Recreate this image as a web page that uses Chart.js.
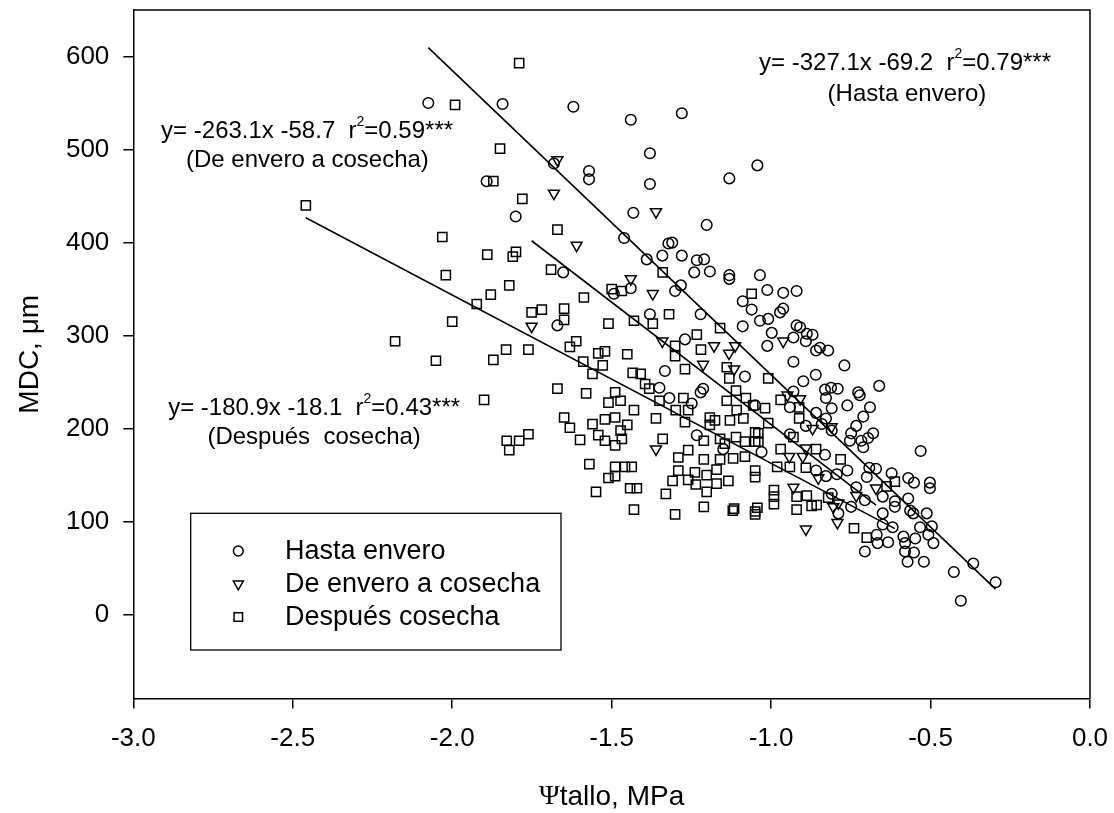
<!DOCTYPE html>
<html><head><meta charset="utf-8">
<script src="https://cdn.jsdelivr.net/npm/chart.js@4.4.1/dist/chart.umd.min.js"></script>
<style>html,body{margin:0;padding:0;background:#fff}#wrap{width:1114px;height:813px}</style>
</head><body><div id="wrap"><canvas id="c" width="1114" height="813"></canvas></div>
<script>
// ---- data ----
const seriesLabels = ['Hasta envero', 'De envero a cosecha', 'Después cosecha'];

const hastaX = [-2.075,-1.842,-1.620,-1.440,-1.280,-1.380,-1.380,-1.571,-1.571,-1.681,-1.892,-1.131,-1.043,-1.801,-1.432,-1.202,-1.461,-1.322,-1.310,-1.390,-1.341,-1.280,-1.233,-1.210,-1.241,-1.192,-1.131,-1.131,-1.035,-1.652,-1.283,-1.301,-1.440,-1.493,-1.380,-1.221,-1.089,-1.061,-1.089,-1.035,-1.670,-1.270,-1.333,-1.082,-1.213,-1.221,-1.249,-1.319,-1.350,-1.233,-1.150,-1.012,-0.962,-0.920,-0.962,-0.972,-1.009,-0.920,-0.909,-0.998,-0.888,-0.870,-0.930,-0.891,-1.012,-0.859,-0.847,-0.821,
 -0.930,-0.770,-0.860,-0.899,-0.831,-0.812,-0.791,-0.828,-0.727,-0.722,-0.661,-0.930,-0.941,-1.050,-0.810,-0.761,-0.690,-0.859,-0.711,-0.891,-0.841,-0.828,-0.733,-0.749,-0.680,-0.696,-0.753,-0.717,-0.711,-0.810,-0.941,-1.030,-0.831,-0.531,-0.794,-0.761,-0.828,-0.859,-0.692,-0.671,-0.622,-0.570,-0.552,-0.502,-0.502,-0.700,-0.733,-0.706,-0.749,-0.810,-0.650,-0.612,-0.570,-0.612,-0.650,-0.564,-0.554,-0.512,-0.650,-0.619,-0.533,-0.496,-0.669,-0.585,-0.548,-0.507,-0.633,-0.666,-0.580,-0.491,-0.706,-0.580,-0.552,-0.572,-0.521,-0.427,-0.366,-0.296,-0.405,-0.789];
const hastaY = [550,549,546,532,539,496,463,477,468,485,466,469,483,428,432,419,405,399,400,382,386,386,381,382,368,369,365,361,365,368,354,348,351,345,323,323,337,328,310,316,311,296,262,256,243,239,227,233,244,193,178,349,346,348,329,325,318,311,309,303,302,301,298,294,289,284,287,284,
 272,268,258,251,242,244,243,233,239,236,246,240,223,225,222,225,223,217,213,203,205,211,203,195,195,190,187,187,180,198,194,175,172,176,151,155,149,155,158,157,152,147,142,142,136,148,137,123,116,130,127,122,125,116,109,112,109,109,97,94,94,95,86,84,82,86,78,77,77,77,68,68,67,57,57,46,55,35,15,109];

const enveroX = [-1.670,-1.681,-1.361,-1.610,-1.440,-1.371,-1.751,-1.341,-1.179,-1.113,-1.132,-1.213,-1.116,-1.361,-0.962,-0.949,-0.909,-0.870,-0.810,-0.891,-0.943,-0.901,-0.852,-0.930,-0.789,-0.805,-0.792,-0.891,-0.671,-0.733];
const enveroY = [489,453,433,397,361,345,310,294,289,289,281,269,264,178,294,236,232,200,202,179,170,170,147,137,120,116,99,92,136,128];

const cosechaX = [-2.459,-2.031,-2.020,-1.923,-2.000,-2.179,-2.051,-1.991,-1.871,-1.900,
 -1.790,-1.850,-1.871,-1.780,-1.670,-1.890,-1.800,-1.810,-1.690,-1.821,-1.879,-1.587,-1.500,-1.468,-1.340,-1.751,-1.719,-1.649,-1.649,-1.510,-1.430,-1.371,-1.320,-1.160,-1.061,
 -1.301,-1.301,-1.233,-1.220,-1.270,-1.139,-1.131,-1.110,-1.139,-1.079,-1.056,-1.108,-1.087,-1.129,-1.176,-1.192,-1.192,-1.275,-1.260,-1.299,-1.270,-1.350,-1.382,-1.395,-1.409,-1.434,-1.361,-1.430,-1.489,-1.472,-1.510,-1.489,-1.521,-1.451,-1.472,-1.468,-1.489,-1.521,-1.542,-1.560,-1.580,-1.670,-1.649,-1.631,-1.599,-1.589,-1.560,-1.528,-1.542,-1.521,-1.611,-1.631,-1.451,-1.761,-1.831,-1.761,-1.790,-1.829,-1.821,-1.570,-1.489,-1.458,-1.437,-1.510,-1.489,-1.549,-1.442,-1.421,-1.430,-1.330,-1.309,-1.291,-1.291,-1.260,-1.260,-1.239,-1.236,-1.301,-1.211,-1.202,-1.202,-1.171,-1.171,-1.134,-1.160,-1.211,-1.116,-1.120,-1.050,-1.050,-1.050,-1.145,-1.160,-1.211,-1.110,-1.082,-1.082,-1.119,-1.050,-1.050,-1.340,
 -1.009,-0.970,-0.912,-1.019,-0.912,-1.009,-1.040,-0.930,-1.040,-0.970,-0.859,-0.782,-0.981,-0.941,-0.891,-0.991,-0.991,-0.991,-0.920,-0.888,-0.821,-0.920,-0.873,-0.857,-1.043,-1.050,-0.740,-0.700,-0.612,-0.638];
const cosechaY = [440,406,365,334,315,294,273,548,274,231,
 593,501,466,447,414,387,390,385,371,354,344,341,350,348,368,325,328,329,317,313,316,313,323,308,345,
 289,278,301,285,264,266,254,241,230,233,225,220,211,209,209,212,204,233,220,220,207,230,243,248,259,260,211,220,239,230,228,212,210,204,198,189,182,187,193,205,238,243,212,201,188,272,259,268,281,283,294,288,280,285,285,194,187,187,177,162,159,159,159,147,149,132,136,136,113,130,144,155,169,177,145,153,140,108,167,150,132,156,141,144,167,116,114,112,111,155,148,184,189,187,191,186,170,168,186,196,189,
 254,231,223,222,211,206,195,191,186,178,178,167,159,159,158,134,127,119,127,128,126,113,117,118,115,108,93,83,143,138];

// regression equations y = slope*x + intercept
const slopes = [-327.1, -263.1, -180.9];
const intercepts = [-69.2, -58.7, -18.1];
const eqLabels = [
  ['y= -327.1x -69.2  r', '2', '=0.79***', '(Hasta envero)'],
  ['y= -263.1x -58.7  r', '2', '=0.59***', '(De envero a cosecha)'],
  ['y= -180.9x -18.1  r', '2', '=0.43***', '(Después  cosecha)']
];

const xTicks = [-3.0, -2.5, -2.0, -1.5, -1.0, -0.5, 0.0];
const yTicks = [0, 100, 200, 300, 400, 500, 600];
const xTitle = ['Ψ', 'tallo, MPa'];
const yTitle = 'MDC, μm';

// ---- layout / style (not data) ----
const SANS = '"Liberation Sans", Arial, sans-serif';
const SERIF = '"Liberation Serif", "Times New Roman", serif';
const eqPos = [ // data-coordinate centres of the two text lines
  [[-0.580, 593], [-0.574, 559]],
  [[-2.455, 520], [-2.454, 488]],
  [[-2.433, 221.5], [-2.433, 191]]
];
const markerStyles = [
  {pointStyle: 'circle', radius: 5.3, rotation: 0},
  {pointStyle: 'triangle', radius: 6.3, rotation: 180},
  {pointStyle: 'rect', radius: 6.5, rotation: 0}
];

function pts(xs, ys) { return xs.map((x, i) => ({x: x, y: ys[i]})); }
const seriesPts = [pts(hastaX, hastaY), pts(enveroX, enveroY), pts(cosechaX, cosechaY)];

function fitLine(i) {
  const xs = seriesPts[i].map(p => p.x);
  const a = Math.min(...xs), b = Math.max(...xs);
  return [{x: a, y: slopes[i] * a + intercepts[i]}, {x: b, y: slopes[i] * b + intercepts[i]}];
}

const datasets = [];
seriesPts.forEach((d, i) => {
  datasets.push({
    type: 'scatter', label: seriesLabels[i], data: d,
    pointStyle: markerStyles[i].pointStyle, pointRadius: markerStyles[i].radius,
    pointRotation: markerStyles[i].rotation, pointBorderWidth: 1.5,
    borderColor: '#000', backgroundColor: 'rgba(0,0,0,0)', pointHoverRadius: markerStyles[i].radius,
    order: 2
  });
});
[0, 1, 2].forEach(i => {
  datasets.push({
    type: 'line', label: 'fit' + i, data: fitLine(i), borderColor: '#000', borderWidth: 1.6,
    pointRadius: 0, fill: false, showLine: true, order: 1
  });
});

const decor = {
  id: 'decor',
  afterDraw(chart) {
    const ctx = chart.ctx, a = chart.chartArea, xs = chart.scales.x, ys = chart.scales.y;
    ctx.save();
    // frame top & right
    ctx.strokeStyle = '#000'; ctx.lineWidth = 1.5;
    ctx.beginPath();
    ctx.moveTo(a.left, a.top); ctx.lineTo(a.right, a.top); ctx.lineTo(a.right, a.bottom);
    ctx.stroke();

    // equations
    ctx.fillStyle = '#000';
    const fs = 24;
    eqLabels.forEach((lab, i) => {
      const p1 = eqPos[i][0], p2 = eqPos[i][1];
      const cx = xs.getPixelForValue(p1[0]), cy = ys.getPixelForValue(p1[1]);
      ctx.textBaseline = 'middle';
      ctx.font = fs + 'px ' + SANS;
      const w1 = ctx.measureText(lab[0]).width;
      const w3 = ctx.measureText(lab[2]).width;
      ctx.font = Math.round(fs * 0.6) + 'px ' + SANS;
      const w2 = ctx.measureText(lab[1]).width;
      let x0 = cx - (w1 + w2 + w3) / 2;
      ctx.textAlign = 'left';
      ctx.font = fs + 'px ' + SANS;
      ctx.fillText(lab[0], x0, cy);
      ctx.font = Math.round(fs * 0.6) + 'px ' + SANS;
      ctx.fillText(lab[1], x0 + w1, cy - fs * 0.38);
      ctx.font = fs + 'px ' + SANS;
      ctx.fillText(lab[2], x0 + w1 + w2, cy);
      ctx.textAlign = 'center';
      ctx.fillText(lab[3], xs.getPixelForValue(p2[0]), ys.getPixelForValue(p2[1]));
    });

    // legend
    const lb = {l: 190.7, t: 513.3, w: 370.3, h: 136.7};
    ctx.lineWidth = 1.3;
    ctx.strokeRect(lb.l, lb.t, lb.w, lb.h);
    ctx.font = '27px ' + SANS;
    ctx.textAlign = 'left'; ctx.textBaseline = 'middle';
    seriesLabels.forEach((t, i) => {
      const y = 551 + i * 33;
      ctx.strokeStyle = '#000'; ctx.fillStyle = 'rgba(0,0,0,0)'; ctx.lineWidth = 1.5;
      Chart.helpers.drawPoint(ctx, {pointStyle: markerStyles[i].pointStyle, rotation: markerStyles[i].rotation,
        radius: markerStyles[i].radius * 0.92, borderWidth: 1.5}, 238.3, y);
      ctx.fillStyle = '#000';
      ctx.fillText(t, 285, y + 1);
    });

    // axis titles
    ctx.fillStyle = '#000';
    ctx.textBaseline = 'middle';
    ctx.font = '28px ' + SERIF;
    const wPsi = ctx.measureText(xTitle[0]).width;
    ctx.font = '28px ' + SANS;
    const wRest = ctx.measureText(xTitle[1]).width;
    const xc = (a.left + a.right) / 2;
    let x0 = xc - (wPsi + wRest) / 2;
    ctx.textAlign = 'left';
    ctx.font = '28px ' + SERIF;
    ctx.fillText(xTitle[0], x0, 797);
    ctx.font = '28px ' + SANS;
    ctx.fillText(xTitle[1], x0 + wPsi, 797);

    ctx.translate(30, (a.top + a.bottom) / 2);
    ctx.rotate(-Math.PI / 2);
    ctx.textAlign = 'center';
    ctx.fillText(yTitle, 0, 0);
    ctx.restore();
  }
};

new Chart(document.getElementById('c'), {
  type: 'scatter',
  data: {datasets: datasets},
  options: {
    responsive: false, animation: false, devicePixelRatio: 1,
    layout: {padding: {top: 10, right: 24, left: 0, bottom: 0}},
    plugins: {legend: {display: false}, tooltip: {enabled: false}},
    scales: {
      x: {
        type: 'linear', min: -3, max: 0,
        afterBuildTicks: ax => { ax.ticks = xTicks.map(v => ({value: v})); },
        afterFit: s => { s.height = 114.5; s.paddingLeft = 0; s.paddingRight = 0; s.paddingTop = 0; s.paddingBottom = 0; },
        ticks: {callback: v => Number(v).toFixed(1), color: '#000', font: {family: SANS, size: 26}, padding: 15, maxRotation: 0, autoSkip: false},
        grid: {drawOnChartArea: false, drawTicks: true, tickLength: 10, color: '#000', lineWidth: 1.5},
        border: {display: true, color: '#000', width: 1.5}
      },
      y: {
        type: 'linear', min: -90, max: 650,
        afterBuildTicks: ax => { ax.ticks = yTicks.map(v => ({value: v})); },
        afterFit: s => { s.width = 133.3; s.paddingLeft = 0; s.paddingRight = 0; s.paddingTop = 0; s.paddingBottom = 0; },
        ticks: {color: '#000', font: {family: SANS, size: 26}, padding: 14, autoSkip: false},
        grid: {drawOnChartArea: false, drawTicks: true, tickLength: 10, color: '#000', lineWidth: 1.5},
        border: {display: true, color: '#000', width: 1.5}
      }
    }
  },
  plugins: [decor]
});
</script>
</body></html>
